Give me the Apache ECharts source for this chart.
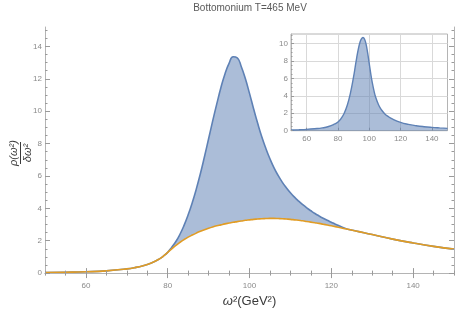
<!DOCTYPE html>
<html><head><meta charset="utf-8">
<script src="https://cdn.jsdelivr.net/npm/echarts@6/dist/echarts.min.js"></script>
<style>html,body{margin:0;padding:0;background:#fff}#c{width:471px;height:313px}</style>
</head><body><div id="c"></div>
<script>
const xMain = [50,55,60,65,70,72,74,76,78,79,80,81,82,83,84,85,86,87,88,89,90,91,92,93,94,95,96,97,98,99,100,101,102,103,104,105,106,107,108,109,110,111,112,113,114,115,116,117,118,119,120,121,122,123,124,126,128,130,135,140,145,150];
const orangeMain = [0.03,0.05,0.08,0.14,0.26,0.34,0.46,0.63,0.88,1.06,1.28,1.5,1.71,1.9,2.07,2.22,2.35,2.47,2.58,2.68,2.77,2.85,2.92,2.98,3.04,3.09,3.14,3.18,3.22,3.26,3.29,3.32,3.34,3.36,3.37,3.38,3.38,3.37,3.36,3.34,3.32,3.29,3.26,3.23,3.19,3.15,3.11,3.07,3.02,2.97,2.92,2.87,2.82,2.76,2.71,2.6,2.49,2.38,2.1,1.86,1.65,1.48];
const blueMain = [0.03,0.05,0.08,0.14,0.26,0.34,0.46,0.63,0.88,1.06,1.28,1.6,1.95,2.4,2.95,3.6,4.35,5.2,6.15,7.2,8.3,9.4,10.45,11.45,12.3,12.95,13.36,13.3,12.75,12.0,11.1,10.15,9.25,8.42,7.7,7.06,6.5,6.03,5.62,5.27,4.96,4.69,4.45,4.23,4.03,3.85,3.68,3.53,3.39,3.26,3.14,3.02,2.91,2.8,2.71,2.6,2.49,2.38,2.1,1.86,1.65,1.48];
const xInset = [50,55,60,65,70,74,78,80,82,84,86,88,90,91,92,93,94,95,96,97,98,99,100,101,102,103,104,106,108,110,112,115,120,125,130,135,140,145,150];
const insetValues = [0.08,0.11,0.15,0.22,0.32,0.48,0.78,1.0,1.4,2.0,2.95,4.35,6.2,7.3,8.4,9.35,10.1,10.55,10.7,10.5,9.9,8.9,7.7,6.5,5.45,4.6,3.9,2.95,2.35,1.93,1.64,1.32,0.95,0.72,0.57,0.46,0.38,0.32,0.27];
const xTickLabels = [60,80,100,120,140];
const yTickLabels = [0,2,4,6,8,10,12,14];
const insetYTickLabels = [0,2,4,6,8,10];

const FONT = 'Liberation Sans, Arial, sans-serif';
const frameC = '#b4b4b4', tickC = '#9a9a9a', labC = '#8a8a8a';
const BLUE = '#5e81b5', ORANGE = '#e19c24', FILL = 'rgba(94,129,181,0.52)';

function range(a, b, s) { const r = []; for (let v = a; v <= b + 1e-9; v += s) r.push(+v.toFixed(3)); return r; }
const minorX = range(50, 150, 5);
const minorY = range(0, 15, 0.5);
const minorYInset = range(0, 11, 0.5);

function ax(o) {
  return Object.assign({
    type: 'value', z: 10,
    axisLine: { show: false },
    axisTick: { show: false },
    axisLabel: { show: false },
    splitLine: { show: false }
  }, o);
}
function major(vals, len) { return { show: true, inside: true, length: len, customValues: vals, lineStyle: { color: tickC, width: 1 } }; }
function lbl(vals, margin) { return { show: true, customValues: vals, color: labC, fontSize: 8, fontFamily: FONT, margin: margin }; }
const line = { show: true, lineStyle: { color: frameC, width: 1 } };

const xAxes = [
  ax({ gridIndex: 0, min: 50, max: 150, position: 'bottom', axisLine: line, axisTick: major(xTickLabels, 5), axisLabel: lbl(xTickLabels, 9),
       name: '{i|ω}²(GeV²)', nameLocation: 'middle', nameGap: 17,
       nameTextStyle: { color: '#3a3a3a', fontSize: 13, fontFamily: FONT, rich: { i: { fontStyle: 'italic', fontSize: 13, fontFamily: FONT, color: '#3a3a3a' } } } }),
  ax({ gridIndex: 0, min: 50, max: 150, position: 'bottom', axisTick: major(minorX, 2.5) }),
  ax({ gridIndex: 0, min: 50, max: 150, position: 'top', axisLine: line, axisTick: major(xTickLabels, 5) }),
  ax({ gridIndex: 0, min: 50, max: 150, position: 'top', axisTick: major(minorX, 2.5) }),
  ax({ gridIndex: 1, min: 50, max: 150, position: 'bottom', z: 3, axisLine: line, axisTick: major(xTickLabels, 3), axisLabel: lbl(xTickLabels, 4),
       splitLine: { show: true, lineStyle: { color: '#d9d9d9', width: 1 } } })
];
const yAxes = [
  ax({ gridIndex: 0, min: 0, max: 15.2, position: 'left', axisLine: line, axisTick: major(yTickLabels, 5), axisLabel: lbl(yTickLabels, 3) }),
  ax({ gridIndex: 0, min: 0, max: 15.2, position: 'left', axisTick: major(minorY, 2.5) }),
  ax({ gridIndex: 0, min: 0, max: 15.2, position: 'right', axisLine: line, axisTick: major(yTickLabels, 5) }),
  ax({ gridIndex: 0, min: 0, max: 15.2, position: 'right', axisTick: major(minorY, 2.5) }),
  ax({ gridIndex: 1, min: 0, max: 11.1, position: 'left', z: 3, axisLine: line, axisTick: major(insetYTickLabels, 3), axisLabel: lbl(insetYTickLabels, 3),
       splitLine: { show: true, lineStyle: { color: '#d9d9d9', width: 1 } } }),
  ax({ gridIndex: 1, min: 0, max: 11.1, position: 'left', axisTick: major(minorYInset, 1.5) })
];

const zip = (xs, ys) => xs.map((x, i) => [x, ys[i]]);

const chart = echarts.init(document.getElementById('c'), null, { renderer: 'canvas' });
chart.setOption({
  animation: false,
  backgroundColor: '#fff',
  grid: [
    { left: 45, right: 17, top: 27, bottom: 33, show: false },
    { left: 291, right: 23.5, top: 34, bottom: 182.3, show: true, backgroundColor: '#fff', borderColor: frameC, borderWidth: 1, z: 3 }
  ],
  xAxis: xAxes,
  yAxis: yAxes,
  graphic: [
    { type: 'text', x: 250, y: 3, style: { text: 'Bottomonium T=465 MeV', fill: '#5a5a5a', font: '10px ' + FONT, align: 'center', verticalAlign: 'top' } },
    { type: 'group', x: 20.5, y: 153, rotation: Math.PI / 2, children: [
      { type: 'text', x: 0, y: -1.5, style: { text: 'ρ(ω²)', fill: '#3a3a3a', font: 'italic 11px ' + FONT, align: 'center', verticalAlign: 'bottom' } },
      { type: 'line', shape: { x1: -11, y1: 0, x2: 11, y2: 0 }, style: { stroke: '#3a3a3a', lineWidth: 1 } },
      { type: 'text', x: 0, y: 1.5, style: { text: 'δω²', fill: '#3a3a3a', font: 'italic 11px ' + FONT, align: 'center', verticalAlign: 'top' } }
    ] }
  ],
  series: [
    { type: 'line', xAxisIndex: 0, yAxisIndex: 0, data: zip(xMain, blueMain), smooth: 0.5, showSymbol: false, z: 2,
      lineStyle: { color: BLUE, width: 1.6 }, areaStyle: { color: FILL, opacity: 1 } },
    { type: 'line', xAxisIndex: 0, yAxisIndex: 0, data: zip(xMain, orangeMain), smooth: 0.5, showSymbol: false, z: 2,
      lineStyle: { color: ORANGE, width: 1.6 }, areaStyle: { color: '#ffffff', opacity: 1 } },
    { type: 'line', xAxisIndex: 4, yAxisIndex: 4, data: zip(xInset, insetValues), smooth: 0.5, showSymbol: false, z: 4,
      lineStyle: { color: BLUE, width: 1.4 }, areaStyle: { color: FILL, opacity: 1 } }
  ]
});
</script></body></html>
